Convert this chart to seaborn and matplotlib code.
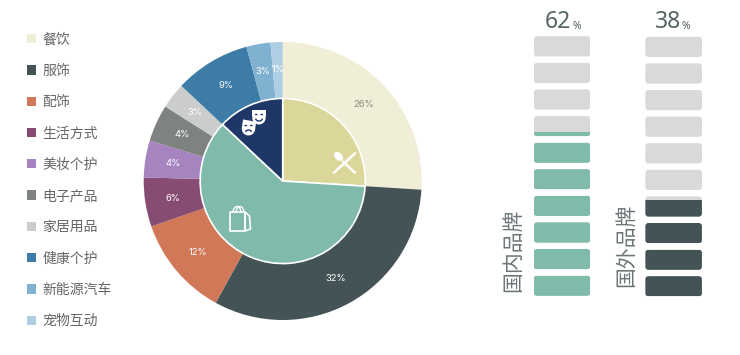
import matplotlib
matplotlib.use('Agg')
import matplotlib.pyplot as plt
from matplotlib.patches import Patch, FancyBboxPatch, Rectangle, Ellipse, Arc, Polygon
import seaborn as sns

W, H = 740, 355

# outer ring
categories = ['餐饮', '服饰', '配饰', '生活方式', '美妆个护', '电子产品', '家居用品', '健康个护', '新能源汽车', '宠物互动']
outer_values = [26, 32, 11.7, 5.7, 4.3, 4.3, 3.0, 8.8, 2.8, 1.4]
outer_labels = ['26%', '32%', '12%', '6%', '4%', '4%', '3%', '9%', '3%', '1%']
outer_colors = ['#F0EED6', '#445356', '#D07857', '#874C72', '#A584BF',
                '#7F8380', '#CBCDCB', '#3C7CA6', '#80B1D0', '#AECEE3']

# inner pie
inner_values = [26, 61, 13]
inner_colors = ['#DBD79A', '#80BAAB', '#1E3766']

# brand blocks, top to bottom, share of each block that is filled
rows = ['1', '2', '3', '4', '5', '6', '7', '8', '9', '10']
domestic_fill = [0, 0, 0, 0.2, 1, 1, 1, 1, 1, 1]
foreign_fill = [0, 0, 0, 0, 0, 0, 0.8, 1, 1, 1]
block_full = [1, 1, 1, 1, 1, 1, 1, 1, 1, 1]

sns.set_theme(style='white')
plt.rcParams['font.family'] = ['Noto Sans CJK SC', 'DejaVu Sans']

fig = plt.figure(figsize=(W / 100, H / 100), dpi=100, facecolor='white')


def px_axes(x0, y0, x1, y1):
    return fig.add_axes([x0 / W, 1 - y1 / H, (x1 - x0) / W, (y1 - y0) / H])


# pie
cx, cy, r = 282.7, 181, 139
ax = px_axes(cx - r, cy - r, cx + r, cy + r)
wedges, texts = ax.pie(outer_values, labels=outer_labels, colors=outer_colors, startangle=90,
                       counterclock=False, radius=1, labeldistance=0.8,
                       wedgeprops={'linewidth': 0})
for i, t in enumerate(texts):
    t.set_ha('center')
    t.set_va('center')
    t.set_fontsize(6.8)
    t.set_fontfamily(['Inter', 'DejaVu Sans'])
    t.set_color('#8a8a80' if i == 0 else 'white')
ax.pie(inner_values, colors=inner_colors, startangle=90, counterclock=False, radius=0.594,
       wedgeprops={'linewidth': 1.2, 'edgecolor': 'white'})
ax.set_xlim(-1, 1)
ax.set_ylim(-1, 1)

# legend
handles = [Patch(facecolor=c, edgecolor='none') for c in outer_colors]
fig.legend(handles, categories, loc='upper left', bbox_to_anchor=(27 / W, 1 - 32.5 / H),
           frameon=False, fontsize=10, labelcolor='#666666', borderpad=0, borderaxespad=0,
           handlelength=0.65, handleheight=0.65, handletextpad=0.45, labelspacing=1.245)


# block columns
def block_column(x0, y0, fill, color):
    bx = px_axes(x0, y0, x0 + 56.5, y0 + 266)
    sns.barplot(x=block_full, y=rows, orient='h', color='#D9D9D9', saturation=1, width=0.76, ax=bx)
    bars = list(bx.patches)
    for bar, f in zip(bars, fill):
        x, y, w, h = bar.get_x(), bar.get_y(), bar.get_width(), bar.get_height()
        bar.remove()
        style = 'round,pad=0,rounding_size=0.055'
        bx.add_patch(FancyBboxPatch((x, y), w, h, boxstyle=style, mutation_aspect=2.1,
                                    facecolor='#D9D9D9', edgecolor='none'))
        if f > 0:
            top = bx.add_patch(FancyBboxPatch((x, y), w, h, boxstyle=style, mutation_aspect=2.1,
                                              facecolor=color, edgecolor='none'))
            # y axis is inverted, so the fill grows up from the larger y
            top.set_clip_path(Rectangle((x, y + h * (1 - f)), w, h * f, transform=bx.transData))
    bx.set_xlim(0, 1)
    bx.set_ylim(9.5, -0.5)
    bx.axis('off')


block_column(533.8, 33, domestic_fill, '#80BAAB')
block_column(645.4, 33.6, foreign_fill, '#445356')

# overlay in pixel coordinates for text and icons
ov = px_axes(0, 0, W, H)
ov.set_xlim(0, W)
ov.set_ylim(H, 0)
ov.axis('off')
ov.patch.set_alpha(0)

num_font = ['Noto Sans', 'DejaVu Sans']
ov.text(571.5, 22, '62', ha='right', va='center', fontsize=16.5, color='#566466', family=num_font)
ov.text(572.5, 26.5, '%', ha='left', va='center', fontsize=7.5, color='#566466', family=num_font)
ov.text(681.5, 22, '38', ha='right', va='center', fontsize=16.5, color='#566466', family=num_font)
ov.text(682, 26.5, '%', ha='left', va='center', fontsize=7.5, color='#566466', family=num_font)
ov.text(512.7, 250, '国内品牌', rotation=90, ha='center', va='center', fontsize=15, color='#6b7476')
ov.text(626, 245, '国外品牌', rotation=90, ha='center', va='center', fontsize=15, color='#6b7476')

# knife and fork
ov.plot([355, 334], [153.3, 172.7], color='white', lw=1.8, solid_capstyle='round')
ov.plot([355, 343], [172.7, 161.7], color='white', lw=1.8, solid_capstyle='round')
ov.add_patch(Ellipse((338.5, 156.5), 7, 10.5, angle=-45, facecolor='white', edgecolor='none'))

# shopping bag
ov.add_patch(Polygon([(230, 212), (245, 212), (245, 231), (230, 231)], closed=True,
                     fill=False, edgecolor='white', lw=1.2, joinstyle='round'))
ov.add_patch(Polygon([(245, 212), (249.5, 216), (250.5, 229), (245, 231)], closed=True,
                     fill=False, edgecolor='white', lw=1.2, joinstyle='round'))
ov.add_patch(Arc((237, 213), 8, 13, theta1=180, theta2=360, edgecolor='white', lw=1))
ov.add_patch(Arc((240, 213), 8, 13, theta1=180, theta2=360, edgecolor='white', lw=1))


# theatre masks
def mask(x, y, angle, smile):
    ov.add_patch(Ellipse((x, y + 1), 13.5, 14, angle=angle, facecolor='white', edgecolor='none'))
    ov.add_patch(Rectangle((x - 6.7, y - 7), 13.4, 6, angle=angle, rotation_point=(x, y),
                           facecolor='white', edgecolor='none'))
    ov.add_patch(Ellipse((x - 2.8, y - 2), 2.8, 1.5, facecolor='#1E3766', edgecolor='none'))
    ov.add_patch(Ellipse((x + 2.8, y - 2), 2.8, 1.5, facecolor='#1E3766', edgecolor='none'))
    if smile:
        ov.add_patch(Arc((x, y + 1.5), 7, 6, theta1=10, theta2=170, edgecolor='#1E3766', lw=1))
    else:
        ov.add_patch(Arc((x, y + 5), 6, 5, theta1=190, theta2=350, edgecolor='#1E3766', lw=1))


mask(259, 116.5, 0, True)
mask(248.5, 127.5, 10, False)

fig.savefig('out.png', dpi=100)
